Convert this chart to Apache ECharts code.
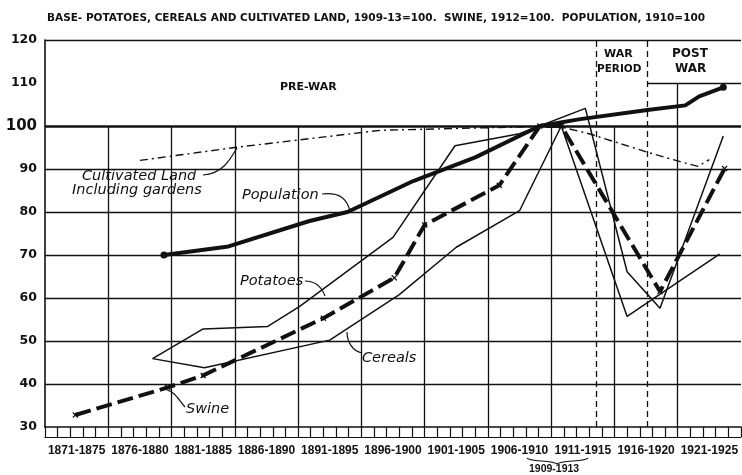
<!DOCTYPE html>
<html>
<head>
<meta charset="utf-8">
<script src="https://cdn.jsdelivr.net/npm/echarts@6/dist/echarts.min.js"></script>
<style>
  html, body { margin: 0; padding: 0; background: #fff; }
  #chart { width: 742px; height: 475px; }
</style>
</head>
<body>
<div id="chart"></div>
<script>
// period labels under the axis
const periods = ['1871-1875', '1876-1880', '1881-1885', '1886-1890', '1891-1895', '1896-1900',
    '1901-1905', '1906-1910', '1911-1915', '1916-1920', '1921-1925']

// grid lines (years / index values)
const gridYears = [1876, 1881, 1886, 1891, 1896, 1901, 1906, 1911, 1916, 1921]
const gridValues = [40, 50, 60, 70, 80, 90]
const warStart = 1914.6
const warEnd = 1918.6

// series (x = year, y = index)
const populationYears = [1880.4, 1885.5, 1891.9, 1894.9, 1900.1, 1905, 1910.1, 1913.3, 1918.6, 1921.6, 1922.7, 1924.6]
const populationValues = [70, 72, 77.9, 80, 87.2, 92.7, 100, 101.6, 103.7, 104.8, 106.9, 109]

const cultivatedYears = [1878.5, 1886, 1897.5, 1911.5, 1914, 1918.5, 1921.2, 1922.6, 1923.5]
const cultivatedValues = [92, 95, 99, 100, 98.2, 94, 91.7, 90.6, 92.2]

const potatoesYears = [1879.5, 1883.5, 1888.6, 1891.1, 1898.5, 1903.4, 1908.5, 1913.7, 1917, 1919.6, 1924.6]
const potatoesValues = [45.9, 52.8, 53.4, 58, 74.1, 95.4, 98.2, 104.1, 66.1, 57.6, 97.7]

const cerealsYears = [1879.5, 1883.6, 1893.5, 1899, 1903.5, 1908.5, 1911.8, 1917, 1924.3]
const cerealsValues = [45.9, 43.8, 50.2, 60.8, 71.8, 80.3, 100, 55.7, 70.2]

const swineYears = [1873.4, 1880.7, 1883.5, 1893, 1898.6, 1901, 1906.9, 1910.1, 1911.8, 1919.6, 1924.7]
const swineValues = [32.8, 39.2, 42, 55.3, 64.7, 77, 86.2, 100, 100, 61.5, 90.1]

const ink = '#111'
const crossSymbol = 'path://M0,1.5L1.5,0L5,3.5L8.5,0L10,1.5L6.5,5L10,8.5L8.5,10L5,6.5L1.5,10L0,8.5L3.5,5Z'

const zip = (xs, ys) => xs.map((x, i) => [x, ys[i]])

const chart = echarts.init(document.getElementById('chart'))

const seg = (x1, y1, x2, y2, style) => [
    { coord: [x1, y1], lineStyle: style },
    { coord: [x2, y2] }
]

const thinGrid = { color: ink, width: 1.3, type: 'solid' }
const gridLines = []
gridValues.forEach(v => gridLines.push(seg(1871, v, 1926, v, thinGrid)))
gridYears.forEach(y => gridLines.push(seg(y, 30, y, y === 1921 ? 110 : 100, thinGrid)))
gridLines.push(seg(1871, 100, 1926, 100, { color: ink, width: 2.6, type: 'solid' }))
gridLines.push(seg(1871, 120, 1926, 120, { color: ink, width: 1.4, type: 'solid' }))
gridLines.push(seg(warEnd, 110, 1926, 110, thinGrid))
gridLines.push(seg(warStart, 30, warStart, 120, { color: ink, width: 1.3, type: [6, 4] }))
gridLines.push(seg(warEnd, 30, warEnd, 120, { color: ink, width: 1.3, type: [6, 4] }))

const txt = (x, y, text, font) => ({
    type: 'text', x, y,
    style: { text, fill: ink, font, textVerticalAlign: 'middle' }
})
const curve = (x1, y1, cx1, cy1, cx2, cy2, x2, y2) => ({
    type: 'bezierCurve',
    shape: { x1, y1, cpx1: cx1, cpy1: cy1, cpx2: cx2, cpy2: cy2, x2, y2 },
    style: { stroke: ink, lineWidth: 1.2, fill: null }
})

const italic = 'italic 14.5px "DejaVu Sans"'
const caps = 'bold 11px "DejaVu Sans"'

const option = {
    animation: false,
    backgroundColor: '#fff',
    title: {
        text: 'BASE- POTATOES, CEREALS AND CULTIVATED LAND, 1909-13=100.  SWINE, 1912=100.  POPULATION, 1910=100',
        left: 42,
        top: 8,
        textStyle: { fontFamily: 'DejaVu Sans', fontSize: 10.5, fontWeight: 'bold', color: ink }
    },
    grid: { left: 45, right: 1, top: 40, bottom: 48 },
    xAxis: [
        {
            type: 'value',
            min: 1871,
            max: 1926,
            interval: 1,
            axisLine: { show: true, lineStyle: { color: ink, width: 1.6 } },
            axisTick: { show: true, length: 10, lineStyle: { color: ink, width: 1.2 } },
            axisLabel: { show: false },
            splitLine: { show: false }
        },
        {
            type: 'category',
            data: periods,
            position: 'bottom',
            offset: 10,
            boundaryGap: true,
            axisLine: { show: true, lineStyle: { color: ink, width: 1.2 } },
            axisTick: { show: false },
            axisLabel: {
                interval: 0,
                margin: 8,
                color: ink,
                fontFamily: 'Liberation Sans',
                fontWeight: 'bold',
                fontSize: 12
            },
            splitLine: { show: false }
        }
    ],
    yAxis: {
        type: 'value',
        min: 30,
        max: 120,
        interval: 10,
        axisLine: { show: true, lineStyle: { color: ink, width: 1.6 } },
        axisTick: { show: false },
        splitLine: { show: false },
        axisLabel: {
            margin: 8,
            color: ink,
            fontFamily: 'DejaVu Sans',
            fontWeight: 'bold',
            fontSize: 12.5,
            formatter: v => v === 100 ? '{big|100}' : String(v),
            rich: { big: { fontSize: 15, fontWeight: 'bold', fontFamily: 'DejaVu Sans', color: ink } }
        }
    },
    series: [
        {
            name: 'grid',
            type: 'line',
            data: [],
            silent: true,
            markLine: { silent: true, symbol: ['none', 'none'], label: { show: false }, data: gridLines }
        },
        {
            name: 'Cultivated Land',
            type: 'line',
            data: zip(cultivatedYears, cultivatedValues),
            showSymbol: false,
            lineStyle: { color: ink, width: 1.4, type: [8, 4, 2, 4] }
        },
        {
            name: 'Potatoes',
            type: 'line',
            data: zip(potatoesYears, potatoesValues),
            showSymbol: false,
            lineStyle: { color: ink, width: 1.5 }
        },
        {
            name: 'Cereals',
            type: 'line',
            data: zip(cerealsYears, cerealsValues),
            showSymbol: false,
            lineStyle: { color: ink, width: 1.5 }
        },
        {
            name: 'Swine',
            type: 'line',
            data: zip(swineYears, swineValues),
            symbol: crossSymbol,
            symbolSize: 6,
            itemStyle: { color: ink },
            lineStyle: { color: ink, width: 4, type: [16, 6] }
        },
        {
            name: 'Population',
            type: 'line',
            data: zip(populationYears, populationValues).map((p, i, arr) => ({
                value: p,
                symbolSize: (i === 0 || i === arr.length - 1) ? 7 : 0
            })),
            symbol: 'circle',
            itemStyle: { color: ink },
            lineStyle: { color: ink, width: 4 }
        }
    ],
    graphic: [
        txt(280, 87, 'PRE-WAR', caps),
        txt(604, 54, 'WAR', caps),
        txt(597, 69, 'PERIOD', 'bold 10.5px "DejaVu Sans"'),
        txt(672, 54, 'POST', 'bold 12px "DejaVu Sans"'),
        txt(675, 69, 'WAR', 'bold 12px "DejaVu Sans"'),
        txt(82, 176, 'Cultivated Land', italic),
        txt(72, 190, 'Including gardens', italic),
        txt(242, 195, 'Population', italic),
        txt(240, 281, 'Potatoes', italic),
        txt(362, 358, 'Cereals', italic),
        txt(186, 409, 'Swine', italic),
        txt(529, 469.5, '1909-1913', 'bold 10.5px "Liberation Sans"'),
        curve(527, 458, 529, 462, 553, 460, 557, 464),
        curve(557, 464, 561, 460, 586, 462, 588, 458)
    ].concat([
        curve(203, 175, 222, 174, 230, 160, 237, 148),
        curve(322, 194, 340, 192, 347, 199, 350, 211),
        curve(305, 281, 317, 281, 322, 288, 325, 296),
        curve(362, 353, 352, 351, 347, 341, 347, 332),
        curve(185, 407, 178, 399, 175, 392, 167, 390)
    ])
}

chart.setOption(option)
</script>
</body>
</html>
